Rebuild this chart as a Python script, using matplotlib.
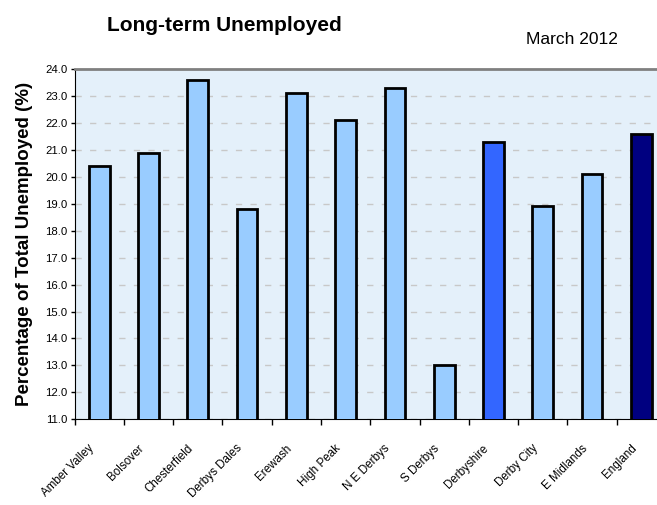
import matplotlib
matplotlib.use("Agg")
import matplotlib.pyplot as plt
import matplotlib.transforms as mtransforms
import numpy as np

plt.rcParams["font.family"] = ["Liberation Sans", "DejaVu Sans"]

# ---------------------------------------------------------------------------
# Data
# ---------------------------------------------------------------------------
areas = ["Amber Valley", "Bolsover", "Chesterfield", "Derbys Dales", "Erewash",
         "High Peak", "N E Derbys", "S Derbys", "Derbyshire", "Derby City",
         "E Midlands", "England"]
long_term_pct = [20.4, 20.9, 23.6, 18.8, 23.1, 22.1, 23.3, 13.0, 21.3, 18.9, 20.1, 21.6]
bar_colours = ["#99CCFF"] * 8 + ["#3366FF"] + ["#99CCFF"] * 2 + ["#000080"]
y_ticks = np.arange(11, 25, 1)

# ---------------------------------------------------------------------------
# Figure
# ---------------------------------------------------------------------------
fig = plt.figure(figsize=(6.57, 5.05), dpi=100)
ax = fig.add_axes([0.1134, 0.1697, 0.9003, 0.6937])
ax.set_facecolor("#E4F0FA")

x = np.arange(len(areas))
ax.bar(x, long_term_pct, width=0.42, color=bar_colours,
       edgecolor="black", linewidth=2, zorder=3)

ax.set_ylim(11, 24)
ax.set_xlim(-0.5, len(areas) - 0.5)

ax.set_yticks(y_ticks)
ax.set_yticklabels([f"{v:.1f}" for v in y_ticks], fontsize=8.2)
ax.yaxis.grid(True, color="#C8C8C8", linestyle=(0, (4.5, 6)), linewidth=1, zorder=1)

ax.set_xticks(x)
ax.set_xticklabels(areas, rotation=45, ha="right", rotation_mode="anchor", fontsize=8.4)
ax.tick_params(axis="x", which="major", length=0, pad=8)
ax.set_xticks(np.arange(-0.5, len(areas), 1), minor=True)
ax.tick_params(axis="x", which="minor", length=4, direction="out", width=1, color="black")
ax.tick_params(axis="y", length=3, direction="out", width=1, pad=2)

# shift the rotated labels down/left a little, like the original
shift = mtransforms.ScaledTranslation(-0.11, -0.12, fig.dpi_scale_trans)
for lbl in ax.get_xticklabels():
    lbl.set_transform(lbl.get_transform() + shift)

ax.spines["top"].set_color("#808080")
ax.spines["top"].set_linewidth(2)
ax.spines["right"].set_visible(False)
ax.spines["left"].set_color("black")
ax.spines["bottom"].set_color("black")

ax.set_ylabel("Percentage of Total Unemployed (%)", fontsize=13.5, fontweight="bold", labelpad=9)

fig.text(0.341, 0.95, "Long-term Unemployed", fontsize=15, fontweight="bold",
         ha="center", va="center")
fig.text(0.871, 0.921, "March 2012", fontsize=12.5, ha="center", va="center")

fig.savefig("out.png", dpi=100)
